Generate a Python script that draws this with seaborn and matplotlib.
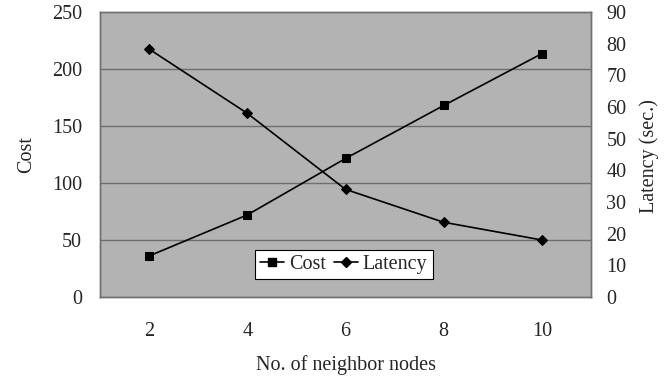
import matplotlib
matplotlib.use("Agg")
import matplotlib.pyplot as plt
from matplotlib.lines import Line2D
import seaborn as sns
import pandas as pd

neighbors = ["2", "4", "6", "8", "10"]
cost = [36, 72, 121.5, 168, 213.5]
latency = [78.3, 58, 34, 23.6, 18]
cost_ticks = [0, 50, 100, 150, 200, 250]
latency_ticks = [0, 10, 20, 30, 40, 50, 60, 70, 80, 90]

FS = 14.5

sns.set_style("white")
plt.rcParams["font.family"] = ["Liberation Serif", "DejaVu Serif"]
plt.rcParams["font.size"] = FS

df = pd.DataFrame({"nodes": neighbors, "cost": cost, "latency": latency})

fig = plt.figure(figsize=(6.67, 3.79), dpi=100)
fig.subplots_adjust(left=100 / 667, right=591 / 667, top=1 - 12 / 379, bottom=1 - 297 / 379)
ax = fig.add_subplot(111)
ax.set_facecolor("#b3b3b3")

sns.lineplot(data=df, x="nodes", y="cost", ax=ax, color="black", linewidth=1.2,
             marker="s", markersize=6, markeredgecolor="black", sort=False)
ax.set_xlim(-0.5, len(neighbors) - 0.5)
ax.set_ylim(0, 250)
ax.set_yticks(cost_ticks)
for y in cost_ticks[1:-1]:
    ax.axhline(y, color="#6e6e6e", linewidth=1.0, zorder=0.5)

ax2 = ax.twinx()
sns.lineplot(data=df, x="nodes", y="latency", ax=ax2, color="black", linewidth=1.2,
             marker="D", markersize=5.5, markeredgecolor="black", sort=False)
ax2.set_ylim(0, 90)
ax2.set_yticks(latency_ticks)
ax2.set_xlim(-0.5, len(neighbors) - 0.5)

# category boundaries as inward tick marks
ax.set_xticks(range(len(neighbors)))
ax.set_xticklabels(neighbors)
ax.set_xticks([i + 0.5 for i in range(len(neighbors) - 1)], minor=True)
ax.tick_params(axis="x", which="major", length=0, pad=18, labelsize=FS)
ax.tick_params(axis="x", which="minor", direction="in", length=7, width=1, color="#505050")
ax.tick_params(axis="y", length=0, pad=13, labelsize=FS)
ax2.tick_params(axis="y", length=0, pad=11, labelsize=FS)

for a in (ax, ax2):
    for s in a.spines.values():
        s.set_color("#707070")
        s.set_linewidth(1.0)

ax.set_xlabel("No. of neighbor nodes", fontsize=FS)
ax.xaxis.set_label_coords(0.5, -0.205)
ax.set_ylabel("Cost", fontsize=FS, va="center")
ax.yaxis.set_label_coords(-0.149, 0.5)
ax2.set_ylabel("Latency (sec.)", fontsize=FS, va="center")
ax2.yaxis.set_label_coords(1.118, 0.495)

handles = [
    Line2D([], [], color="black", linewidth=1.2, marker="s", markersize=6),
    Line2D([], [], color="black", linewidth=1.2, marker="D", markersize=5.5),
]
leg = ax2.legend(handles, ["Cost", "Latency"], loc="center", bbox_to_anchor=(0.496, 0.113),
                 ncol=2, frameon=True, fancybox=False, framealpha=1, edgecolor="black",
                 handlelength=1.2, handletextpad=0.25, columnspacing=0.4,
                 borderpad=0.25, borderaxespad=0, fontsize=FS)
leg.get_frame().set_linewidth(0.8)

fig.savefig("out.png", dpi=100, facecolor="white")
